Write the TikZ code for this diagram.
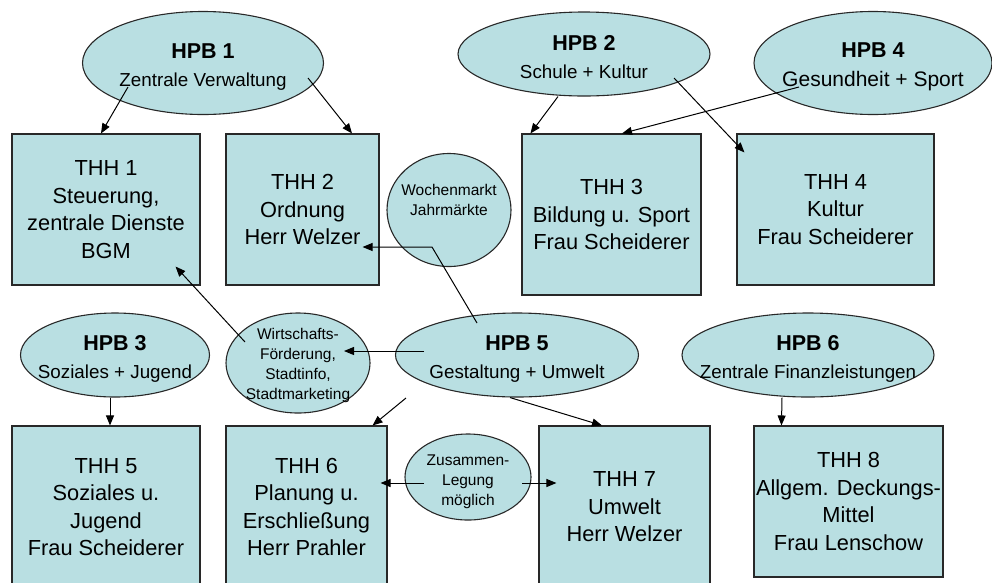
\documentclass[tikz,border=0pt]{standalone}
\usepackage{fontspec}
\setmainfont{Liberation Sans}
\usetikzlibrary{shapes.geometric,arrows.meta}

\definecolor{boxfill}{RGB}{185,223,226}
\definecolor{edgegray}{RGB}{40,40,40}

\newcommand{\hpbtitle}[1]{{\fontsize{21.5}{27}\selectfont\bfseries #1}}

\tikzset{
  hpb/.style={ellipse, draw=edgegray, line width=1.1pt, fill=boxfill, inner sep=0pt},
  hpbtext/.style={align=center, yshift=-4pt, font=\fontsize{18.8}{27.5}\selectfont},
  note/.style={align=center, font=\fontsize{15.5}{20}\selectfont},
  thh/.style={rectangle, draw=edgegray, line width=1.1pt, fill=boxfill, inner sep=0pt,
    align=center, font=\fontsize{21.8}{27.5}\selectfont},
  arr/.style={-{Triangle[length=10pt,width=8pt]}, line width=1pt, black}
}

\begin{document}
\begin{tikzpicture}[x=1pt, y=-1pt]
    \useasboundingbox (0,0) rectangle (992,582);
    \clip (0,0) rectangle (992,582);

    % Hauptproduktbereiche (top row)
    \node[hpb, minimum width=241pt, minimum height=103pt,
      label={[hpbtext]center:{\hpbtitle{HPB 1}\\Zentrale Verwaltung}}] (hpb1) at (203,63) {};
    \node[hpb, minimum width=252pt, minimum height=84pt,
      label={[hpbtext, yshift=1pt]center:{\hpbtitle{HPB 2}\\Schule + Kultur}}] (hpb2) at (584,54) {};
    \node[hpb, minimum width=238pt, minimum height=103pt,
      label={[hpbtext, font=\fontsize{21}{29}\selectfont]center:{\hpbtitle{HPB 4}\\Gesundheit + Sport}}] (hpb4) at (873,63) {};

    % Teilhaushalte (top row)
    \node[thh, minimum width=188pt, minimum height=151pt] (thh1) at (106,209.5)
      {THH 1\\Steuerung,\\zentrale Dienste\\BGM};
    \node[thh, minimum width=153pt, minimum height=151pt] (thh2) at (302.5,209.5)
      {THH 2\\Ordnung\\Herr Welzer};
    \node[thh, minimum width=179pt, minimum height=161pt] (thh3) at (611.5,214.5)
      {THH 3\\Bildung u. Sport\\Frau Scheiderer};
    \node[thh, minimum width=197pt, minimum height=151pt] (thh4) at (835.5,209.5)
      {THH 4\\Kultur\\Frau Scheiderer};

    % Hinweise
    \node[hpb, minimum width=124pt, minimum height=113pt,
      label={[note, yshift=10pt]center:{Wochenmarkt\\Jahrmärkte}}] (woche) at (449,210) {};
    \node[hpb, minimum width=144pt, minimum height=100pt,
      label={[note, yshift=-2.5pt]center:{Wirtschafts-\\Förderung,\\Stadtinfo,\\Stadtmarketing}}] (wirt) at (298,363) {};
    \node[hpb, minimum width=126pt, minimum height=86pt,
      label={[note, yshift=-4.5pt]center:{Zusammen-\\Legung\\möglich}}] (zus) at (468,477) {};

    % Hauptproduktbereiche (bottom row)
    \node[hpb, minimum width=189pt, minimum height=84pt,
      label={[hpbtext]center:{\hpbtitle{HPB 3}\\Soziales + Jugend}}] (hpb3) at (115,355) {};
    \node[hpb, minimum width=243pt, minimum height=84pt,
      label={[hpbtext]center:{\hpbtitle{HPB 5}\\Gestaltung + Umwelt}}] (hpb5) at (517,355) {};
    \node[hpb, minimum width=252pt, minimum height=84pt,
      label={[hpbtext]center:{\hpbtitle{HPB 6}\\Zentrale Finanzleistungen}}] (hpb6) at (808,355) {};

    % Teilhaushalte (bottom row)
    \node[thh, minimum width=188pt, minimum height=162pt] (thh5) at (106,507)
      {THH 5\\Soziales u.\\Jugend\\Frau Scheiderer};
    \node[thh, minimum width=161pt, minimum height=162pt] (thh6) at (306.5,507)
      {THH 6\\Planung u.\\Erschließung\\Herr Prahler};
    \node[thh, minimum width=171pt, minimum height=162pt] (thh7) at (624.5,507)
      {THH 7\\Umwelt\\Herr Welzer};
    \node[thh, minimum width=189pt, minimum height=151pt] (thh8) at (848.5,501.5)
      {THH 8\\Allgem. Deckungs-\\Mittel\\Frau Lenschow};

    % Zuordnungen
    \draw[arr] ([xshift=-75pt,yshift=-24pt]hpb1.center) -- ([xshift=-5pt]thh1.north);
    \draw[arr] ([xshift=105pt,yshift=-15pt]hpb1.center) -- ([xshift=49.5pt]thh2.north);
    \draw[arr] ([xshift=-26pt]hpb2.south) -- ([xshift=9pt]thh3.north west);
    \draw[arr] ([xshift=90pt,yshift=-24pt]hpb2.center) -- ([xshift=8pt,yshift=-19pt]thh4.north west);
    \draw[arr] ([xshift=-74pt,yshift=-24pt]hpb4.center) -- ([xshift=10.5pt]thh3.north);
    \draw[arr] ([xshift=-40pt,yshift=32pt]hpb5.center) -- ([xshift=-17pt,yshift=-37pt]woche.center)
      -- ([xshift=-17pt,yshift=-37.5pt]thh2.east);
    \draw[arr] ([xshift=-53pt,yshift=21pt]wirt.center) -- ([xshift=-25pt,yshift=19pt]thh1.south east);
    \draw[arr] ([xshift=-93pt,yshift=4pt]hpb5.center) -- ([xshift=46pt,yshift=12pt]wirt.center);
    \draw[arr] ([xshift=-111pt,yshift=-43pt]hpb5.center) -- ([xshift=-15pt]thh6.north east);
    \draw[arr] ([xshift=-7pt]hpb5.south) -- ([xshift=-22.5pt]thh7.north);
    \draw[arr] ([xshift=-44pt,yshift=-6pt]zus.center) -- ([xshift=-7pt,yshift=24pt]thh6.east);
    \draw[arr] ([xshift=54pt,yshift=-6pt]zus.center) -- ([xshift=18pt,yshift=24pt]thh7.west);
    \draw[arr] ([xshift=-5pt]hpb3.south) -- ([xshift=4pt]thh5.north);
    \draw[arr] ([xshift=-26pt]hpb6.south) -- ([xshift=28pt]thh8.north west);
\end{tikzpicture}
\end{document}
